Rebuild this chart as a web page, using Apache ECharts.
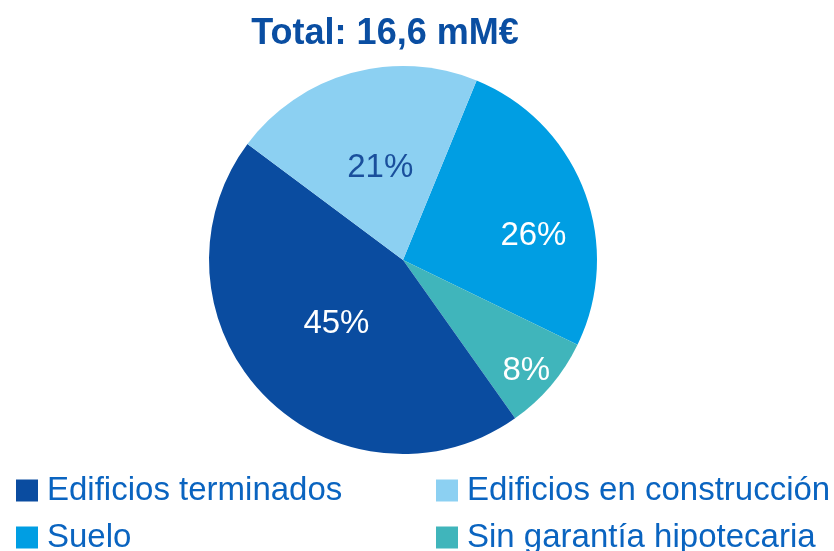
<!DOCTYPE html>
<html>
<head>
<meta charset="utf-8">
<script src="https://cdn.jsdelivr.net/npm/echarts@6/dist/echarts.min.js"></script>
<style>
  html, body { margin: 0; padding: 0; background: #fff; }
  #chart { width: 834px; height: 551px; }
</style>
</head>
<body>
<div id="chart"></div>
<script>
// slices, clockwise from the top-right
let names = ['Suelo', 'Sin garantía hipotecaria', 'Edificios terminados', 'Edificios en construcción'];
let values = [26, 8, 45, 21];
let colors = ['#009ee3', '#40b5bb', '#0a4ca0', '#8cd0f2'];
let labelColors = ['#ffffff', '#ffffff', '#ffffff', '#1a4f9c'];
let titleText = 'Total: 16,6 mM€';

// legend order (two columns, two rows)
let legendNames = ['Edificios terminados', 'Edificios en construcción', 'Suelo', 'Sin garantía hipotecaria'];
let legendSpots = [[16, 474], [436, 474], [16, 521], [436, 521]];

// small nudges for the percentage labels (index order as names)
let labelNudge = [[37, 12], [47, 46], [5, -6], [4, 4]];

let seriesData = [];
for (let i = 0; i < names.length; i++) {
    seriesData.push({
        name: names[i],
        value: values[i],
        itemStyle: { color: colors[i] },
        label: { color: labelColors[i] }
    });
}

// one legend per entry so each sits in its own cell
let legends = [];
for (let i = 0; i < legendNames.length; i++) {
    legends.push({
        data: [legendNames[i]],
        left: legendSpots[i][0],
        top: legendSpots[i][1],
        padding: 0,
        icon: 'rect',
        itemWidth: 22,
        itemHeight: 22,
        selectedMode: false,
        textStyle: {
            fontFamily: 'Liberation Sans',
            fontSize: 33,
            color: '#0a64c0',
            padding: [0, 0, 0, 4]
        }
    });
}

let option = {
    animation: false,
    title: {
        text: titleText,
        left: 380,
        textAlign: 'center',
        top: 11,
        textStyle: {
            fontFamily: 'Liberation Sans',
            fontWeight: 'bold',
            fontSize: 36,
            color: '#0a4ea2'
        }
    },
    legend: legends,
    series: [{
        type: 'pie',
        center: [403, 260],
        radius: 194,
        startAngle: 67.7,
        clockwise: true,
        label: {
            position: 'inside',
            formatter: '{c}%',
            fontFamily: 'Liberation Sans',
            fontSize: 33
        },
        labelLayout: function (params) {
            let n = labelNudge[params.dataIndex];
            return { dx: n[0], dy: n[1] };
        },
        itemStyle: { borderWidth: 0 },
        emphasis: { disabled: true },
        data: seriesData
    }]
};

let myChart = echarts.init(document.getElementById('chart'));
myChart.setOption(option);
</script>
</body>
</html>
